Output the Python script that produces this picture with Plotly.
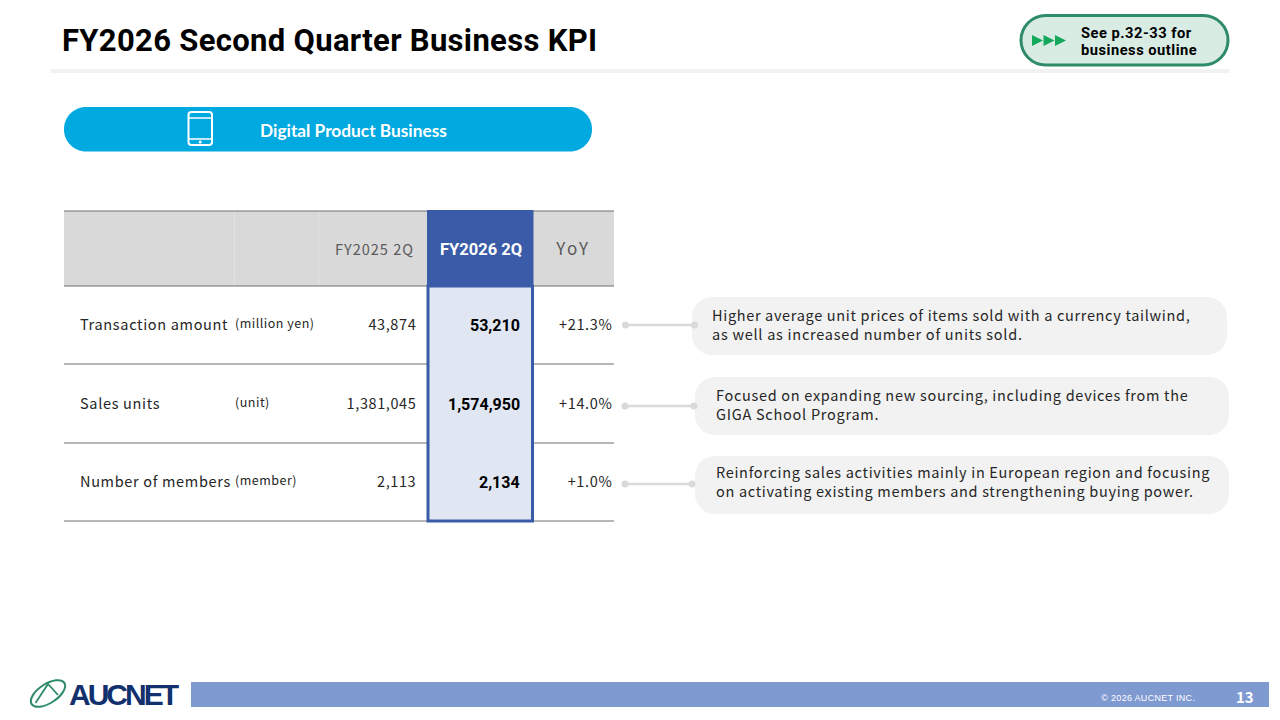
import json
import math
import plotly.graph_objects as go

# ---------- data ----------
title = "FY2026 Second Quarter Business KPI"
segment = "Digital Product Business"
see_lines = ["See p.32-33 for", "business outline"]
col_headers = ["FY2025 2Q", "FY2026 2Q", "YoY"]
kpi_names = ["Transaction amount", "Sales units", "Number of members"]
kpi_units = ["(million yen)", "(unit)", "(member)"]
fy2025 = ["43,874", "1,381,045", "2,113"]
fy2026 = ["53,210", "1,574,950", "2,134"]
yoy = ["+21.3%", "+14.0%", "+1.0%"]
notes = [
    ["Higher average unit prices of items sold with a currency tailwind,",
     "as well as increased number of units sold."],
    ["Focused on expanding new sourcing, including devices from the",
     "GIGA School Program."],
    ["Reinforcing sales activities mainly in European region and focusing",
     "on activating existing members and strengthening buying power."],
]
copyright_text = "© 2026 AUCNET INC."
page_no = "13"
logo_text = "AUCNET"

# ---------- layout constants ----------
JP = "Noto Sans CJK JP"
BOLD = "Roboto"
row_y = [323, 402, 480]
row_lines = [211, 286, 364, 443, 521]
note_boxes = [(692, 297, 1227, 355), (695, 377, 1229, 435), (695, 456, 1229, 514)]
note_text_x = [712, 716, 716]
note_text_y = [(314, 333.5), (394, 413.5), (471, 490.5)]
note_ls = [(0.67, 0.74), (0.69, 0.74), (0.68, 0.67)]
conn = [(625.5, 694.5, 325), (625, 694, 406), (625, 692, 484)]
K = 0.5523

shapes, annos, spacing = [], [], []


def rect(x0, y0, x1, y1, fill, line=None, lw=0):
    shapes.append(dict(type="rect", xref="x", yref="y", x0=x0, y0=y0, x1=x1, y1=y1,
                       fillcolor=fill, line=dict(color=line or fill, width=lw)))


def hline(x0, x1, y, color, w):
    shapes.append(dict(type="line", xref="x", yref="y", x0=x0, x1=x1, y0=y, y1=y,
                       line=dict(color=color, width=w)))


def rrect(x0, y0, x1, y1, r, fill, line=None, lw=0):
    c = r * (1 - K)
    p = (f"M{x0+r},{y0} L{x1-r},{y0} C{x1-c},{y0} {x1},{y0+c} {x1},{y0+r} L{x1},{y1-r} "
         f"C{x1},{y1-c} {x1-c},{y1} {x1-r},{y1} L{x0+r},{y1} C{x0+c},{y1} {x0},{y1-c} {x0},{y1-r} "
         f"L{x0},{y0+r} C{x0},{y0+c} {x0+c},{y0} {x0+r},{y0} Z")
    shapes.append(dict(type="path", xref="x", yref="y", path=p, fillcolor=fill,
                       line=dict(color=line or fill, width=lw)))


def circle(cx, cy, r, fill):
    shapes.append(dict(type="circle", xref="x", yref="y", x0=cx-r, x1=cx+r, y0=cy-r, y1=cy+r,
                       fillcolor=fill, line=dict(width=0)))


def tilted_ellipse(cx, cy, rx, ry, deg, color, w):
    a = math.radians(deg)

    def P(u, v):
        return f"{cx + u*math.cos(a) - v*math.sin(a):.2f},{cy + u*math.sin(a) + v*math.cos(a):.2f}"
    p = (f"M{P(rx,0)} C{P(rx,K*ry)} {P(K*rx,ry)} {P(0,ry)} C{P(-K*rx,ry)} {P(-rx,K*ry)} {P(-rx,0)} "
         f"C{P(-rx,-K*ry)} {P(-K*rx,-ry)} {P(0,-ry)} C{P(K*rx,-ry)} {P(rx,-K*ry)} {P(rx,0)} Z")
    shapes.append(dict(type="path", xref="x", yref="y", path=p, fillcolor="rgba(0,0,0,0)",
                       line=dict(color=color, width=w)))


def text(x, y, s, size, color, anchor="left", bold=False, family=JP, ls=0):
    annos.append(dict(x=x, y=y, xref="x", yref="y", text=s, showarrow=False, xanchor=anchor,
                      yanchor="middle", align=anchor,
                      font=dict(size=size, color=color, family=family,
                                weight=700 if bold else 400),
                      borderpad=0, borderwidth=0))
    spacing.append(ls)


# header
text(62, 40, title, 31, "#000000", bold=True, family=BOLD, ls=0.32)
rect(50, 69, 1230, 73, "#f2f2f2")

# "see" pill
rrect(1021, 15.5, 1228, 65, 24.7, "#d9ece4", "#2e8b67", 3)
for x in (1032, 1043.5, 1055):
    shapes.append(dict(type="path", xref="x", yref="y",
                       path=f"M{x},35 L{x+11},40.5 L{x},46 Z", fillcolor="#14a85a", line=dict(width=0)))
for y, s in zip((33, 50), see_lines):
    text(1081, y, s, 14.7, "#000000", bold=True, family=BOLD, ls=0.5)

# segment pill
rrect(64, 107, 592, 151.5, 22, "#00a9e0")
rrect(188.5, 112, 212, 145, 3, "rgba(0,0,0,0)", "#ffffff", 2)
hline(188.5, 212, 118, "#ffffff", 1.5)
hline(188.5, 212, 139, "#ffffff", 1.5)
circle(200.2, 142, 1.5, "#ffffff")
text(353.5, 130.5, segment, 17.3, "#ffffff", anchor="center", bold=True, family="Lato")

# table
rect(64, 211, 614, 286, "#d9d9d9")
for x in (234.5, 319):
    shapes.append(dict(type="line", xref="x", yref="y", x0=x, x1=x, y0=211, y1=286,
                       line=dict(color="#e2e2e2", width=1)))
for y in row_lines:
    hline(64, 614, y, "#707070", 1.2)
rect(428, 286, 532.5, 521, "#e0e6f2", "#3a5ba8", 3)
rect(427, 210, 533.5, 286, "#3a5ba8")

text(414, 248.5, col_headers[0], 14.5, "#595959", anchor="right", ls=1.0)
text(480.5, 249, col_headers[1], 16.5, "#ffffff", anchor="center", bold=True, family=BOLD)
text(573, 247, col_headers[2], 17, "#595959", anchor="center", ls=2.5)

for i, y in enumerate(row_y):
    text(80, y, kpi_names[i], 14.5, "#262626", ls=0.67)
    text(235, y - 0.2, kpi_units[i], 12.5, "#262626", ls=0.5)
    text(416, y + 0.5, fy2025[i], 14.5, "#262626", anchor="right", ls=0.6)
    text(520, y + 2.3, fy2026[i], 16, "#000000", anchor="right", bold=True, family=BOLD)
    text(612.7, y + 0.5, yoy[i], 14.5, "#262626", anchor="right", ls=0.67)

# notes
for i in range(3):
    x0, y0, x1, y1 = note_boxes[i]
    rrect(x0, y0, x1, y1, 20, "#f2f2f2")
    xa, xb, yc = conn[i]
    hline(xa, xb, yc, "#d9d9d9", 2.5)
    circle(xa, yc, 3.5, "#d9d9d9")
    circle(xb, yc, 3.5, "#d9d9d9")
    for s, yy, ll in zip(notes[i], note_text_y[i], note_ls[i]):
        text(note_text_x[i], yy, s, 14.5, "#262626", ls=ll)

# footer
rect(191, 682, 1269, 707, "#7f99d1")
text(1148.5, 697.5, copyright_text, 9, "#ffffff", anchor="center", family="Liberation Sans", ls=0.3)
text(1244.5, 696, page_no, 15, "#ffffff", anchor="center", bold=True)

# logo
tilted_ellipse(48, 693.5, 19.5, 9.5, -33, "#2e8b67", 2)
shapes.append(dict(type="path", xref="x", yref="y",
                   path="M35.5,703 L48,684 L58,695", fillcolor="rgba(0,0,0,0)",
                   line=dict(color="#2e8b67", width=1.8)))
text(122.5, 694, logo_text, 30, "#12306e", anchor="center", bold=True, family="Liberation Sans", ls=-3)

fig = go.Figure()
fig.update_layout(
    width=1280, height=720, margin=dict(l=0, r=0, t=0, b=0),
    paper_bgcolor="#ffffff", plot_bgcolor="#ffffff", showlegend=False,
    xaxis=dict(range=[0, 1280], visible=False, fixedrange=True),
    yaxis=dict(range=[720, 0], visible=False, fixedrange=True),
    shapes=shapes, annotations=annos,
)
post = ("document.body.style.margin='0';document.body.style.overflow='hidden';"
        f"var ls={json.dumps(spacing)};"
        "document.querySelectorAll('.annotation-text').forEach(function(t,i){"
        "if(ls[i])t.style.letterSpacing=ls[i]+'px';});")
fig.write_html("out.html", config=dict(displayModeBar=False), post_script=post)
